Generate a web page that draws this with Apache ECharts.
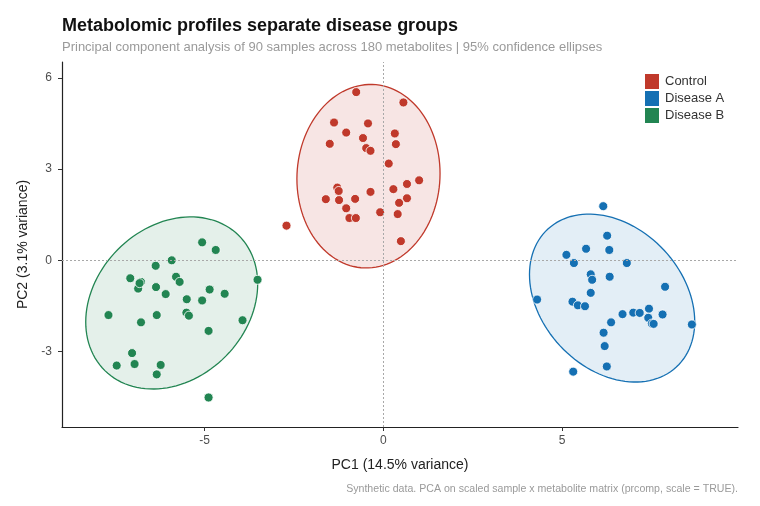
<!DOCTYPE html>
<html lang="en">
<head>
  <meta charset="UTF-8">
  <title>Metabolomic PCA</title>
  <script src="https://cdn.jsdelivr.net/npm/echarts@6/dist/echarts.min.js"></script>
  <style>
    html, body { margin: 0; padding: 0; background: #fff; }
    #chart { width: 760px; height: 506px; }
  </style>
</head>
<body>
<div id="chart"></div>
<script>
  // groups and colours
  var groups = ["Control", "Disease A", "Disease B"];
  var colors = ["#C0392B", "#1570B3", "#228552"];
  var fills = ["rgba(192,57,43,0.13)", "rgba(21,112,179,0.12)", "rgba(34,133,82,0.12)"];

  // PC1 / PC2 scores
  var control = [
    [-0.76, 5.53], [0.56, 5.19], [-1.38, 4.53], [-0.43, 4.50], [-1.04, 4.20],
    [0.32, 4.17], [-0.57, 4.02], [-1.50, 3.83], [0.35, 3.82], [-0.48, 3.69],
    [-0.36, 3.60], [0.15, 3.18], [1.00, 2.63], [0.66, 2.51], [-1.29, 2.39],
    [-1.25, 2.28], [0.28, 2.34], [-0.36, 2.25], [-1.61, 2.01], [-1.24, 1.98],
    [-0.79, 2.02], [0.66, 2.04], [0.44, 1.89], [-1.04, 1.71], [-0.09, 1.58],
    [0.40, 1.52], [-0.95, 1.39], [-0.77, 1.39], [-2.71, 1.14], [0.49, 0.63]
  ];
  var diseaseA = [
    [6.15, 1.78], [6.26, 0.81], [5.67, 0.38], [6.32, 0.34], [5.12, 0.18],
    [5.33, -0.09], [6.81, -0.09], [5.80, -0.46], [5.84, -0.64], [6.33, -0.54],
    [7.88, -0.87], [4.30, -1.29], [5.80, -1.07], [5.29, -1.36], [5.44, -1.48],
    [5.64, -1.51], [6.69, -1.77], [6.99, -1.72], [7.17, -1.73], [7.43, -1.59],
    [7.41, -1.89], [7.51, -2.08], [7.56, -2.09], [7.81, -1.78], [6.37, -2.04],
    [8.63, -2.11], [6.16, -2.38], [6.19, -2.82], [6.25, -3.49], [5.31, -3.66]
  ];
  var diseaseB = [
    [-5.07, 0.59], [-4.69, 0.34], [-5.92, 0.00], [-6.37, -0.18], [-7.08, -0.59],
    [-6.78, -0.71], [-6.86, -0.93], [-6.36, -0.88], [-5.80, -0.54], [-5.70, -0.71],
    [-6.09, -1.11], [-4.86, -0.96], [-4.44, -1.10], [-3.52, -0.64], [-5.50, -1.28],
    [-5.07, -1.32], [-7.69, -1.80], [-6.34, -1.80], [-6.78, -2.04], [-5.51, -1.72],
    [-5.44, -1.82], [-3.94, -1.97], [-4.89, -2.32], [-7.03, -3.05], [-7.46, -3.46],
    [-6.96, -3.41], [-6.23, -3.44], [-6.34, -3.75], [-4.89, -4.51], [-6.82, -0.75]
  ];
  var groupData = [control, diseaseA, diseaseB];

  var xTicks = [-5, 0, 5];
  var yTicks = [-3, 0, 3, 6];

  // robust t-covariance (like MASS::cov.trob, nu = 5)
  function covTrob(pts) {
    var n = pts.length, nu = 5, p = 2;
    var w = pts.map(function () { return 1; });
    var m, sxx, syy, sxy;
    for (var it = 0; it < 50; it++) {
      var sw = 0, mx = 0, my = 0;
      pts.forEach(function (q, i) { sw += w[i]; mx += w[i] * q[0]; my += w[i] * q[1]; });
      mx /= sw; my /= sw;
      sxx = 0; syy = 0; sxy = 0;
      pts.forEach(function (q, i) {
        var dx = q[0] - mx, dy = q[1] - my;
        sxx += w[i] * dx * dx; syy += w[i] * dy * dy; sxy += w[i] * dx * dy;
      });
      sxx /= n; syy /= n; sxy /= n;
      m = [mx, my];
      var det = sxx * syy - sxy * sxy;
      var w0 = w.slice();
      pts.forEach(function (q, i) {
        var dx = q[0] - mx, dy = q[1] - my;
        var d2 = (syy * dx * dx - 2 * sxy * dx * dy + sxx * dy * dy) / det;
        w[i] = (nu + p) / (nu + d2);
      });
      var ch = 0;
      w.forEach(function (v, i) { ch = Math.max(ch, Math.abs(v - w0[i])); });
      if (ch < 1e-6) break;
    }
    return { m: m, sxx: sxx, syy: syy, sxy: sxy };
  }

  // 95% ellipse, same recipe as ggplot2's stat_ellipse
  function ellipse(pts, level, segs) {
    var c = covTrob(pts), n = pts.length, d = n - 1;
    var f = (d / 2) * (Math.pow(1 - level, -2 / d) - 1);   // qf(level, 2, n - 1)
    var r = Math.sqrt(2 * f);
    var l11 = Math.sqrt(c.sxx), l21 = c.sxy / l11, l22 = Math.sqrt(c.syy - l21 * l21);
    var out = [];
    for (var i = 0; i <= segs; i++) {
      var t = 2 * Math.PI * i / segs, co = Math.cos(t), s = Math.sin(t);
      out.push([c.m[0] + r * l11 * co, c.m[1] + r * (l21 * co + l22 * s)]);
    }
    return out;
  }
  var ellipses = groupData.map(function (g) { return ellipse(g, 0.95, 120); });

  var chart = echarts.init(document.getElementById('chart'));
  var font = "Liberation Sans";

  var series = [{
    type: 'custom',
    coordinateSystem: 'cartesian2d',
    silent: true,
    z: 1,
    data: [0, 1, 2],
    renderItem: function (params, api) {
      var i = params.dataIndex;
      var pts = ellipses[i].map(function (p) { return api.coord(p); });
      return {
        type: 'polygon',
        shape: { points: pts },
        style: { fill: fills[i], stroke: colors[i], lineWidth: 1.3 }
      };
    },
    markLine: {
      silent: true,
      symbol: 'none',
      label: { show: false },
      lineStyle: { color: '#a8a8a8', type: [2, 2], width: 1 },
      data: [{ xAxis: 0 }, { yAxis: 0 }]
    }
  }];
  groups.forEach(function (name, i) {
    series.push({
      name: name,
      type: 'scatter',
      z: 3,
      symbolSize: 9,
      data: groupData[i],
      itemStyle: { color: colors[i], borderColor: '#ffffff', borderWidth: 0.8, opacity: 1 }
    });
  });

  chart.setOption({
    animation: false,
    textStyle: { fontFamily: font },
    title: [{
      text: 'Metabolomic profiles separate disease groups',
      left: 57, top: 12,
      textStyle: { fontSize: 18, fontWeight: 'bold', color: '#111', fontFamily: font }
    }, {
      text: 'Principal component analysis of 90 samples across 180 metabolites | 95% confidence ellipses',
      left: 57, top: 36,
      textStyle: { fontSize: 13, fontWeight: 'normal', color: '#9a9a9a', fontFamily: font }
    }, {
      text: 'Synthetic data. PCA on scaled sample x metabolite matrix (prcomp, scale = TRUE).',
      right: 17, top: 479,
      textStyle: { fontSize: 10.6, fontWeight: 'normal', color: '#9a9a9a', fontFamily: font }
    }],
    legend: {
      data: groups,
      orient: 'vertical',
      left: 638, top: 67,
      icon: 'rect',
      itemWidth: 16, itemHeight: 17,
      itemGap: -2,
      textStyle: { fontSize: 13, color: '#333', fontFamily: font }
    },
    grid: { left: 62, right: 22, top: 62, bottom: 79 },
    xAxis: {
      type: 'value',
      min: -8.99, max: 9.92,
      name: 'PC1 (14.5% variance)',
      nameLocation: 'middle', nameGap: 31,
      nameTextStyle: { fontSize: 14, color: '#222' },
      splitLine: { show: false },
      axisLine: { show: true, onZero: false, lineStyle: { color: '#222', width: 1.2 } },
      axisTick: { show: true, customValues: xTicks, length: 4, lineStyle: { color: '#333' } },
      axisLabel: { customValues: xTicks, fontSize: 12, color: '#4d4d4d', margin: 8 }
    },
    yAxis: {
      type: 'value',
      min: -5.48, max: 6.52,
      name: 'PC2 (3.1% variance)',
      nameLocation: 'middle', nameGap: 32,
      nameTextStyle: { fontSize: 14, color: '#222' },
      splitLine: { show: false },
      axisLine: { show: true, onZero: false, lineStyle: { color: '#222', width: 1.2 } },
      axisTick: { show: true, customValues: yTicks, length: 4, lineStyle: { color: '#333' } },
      axisLabel: { customValues: yTicks, fontSize: 12, color: '#4d4d4d', margin: 10 }
    },
    series: series
  });
</script>
</body>
</html>
